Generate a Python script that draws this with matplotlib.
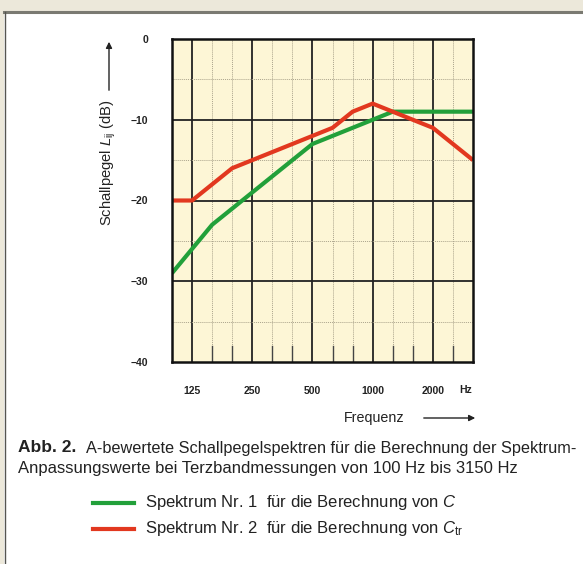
import numpy as np
import matplotlib
matplotlib.use("Agg")
import matplotlib.pyplot as plt
from matplotlib.patches import Rectangle

# Terzbaender 100 Hz .. 3150 Hz
freqs = [100, 125, 160, 200, 250, 315, 400, 500, 630, 800, 1000, 1250, 1600, 2000, 2500, 3150]
spektrum1 = [-29, -26, -23, -21, -19, -17, -15, -13, -12, -11, -10, -9, -9, -9, -9, -9]
spektrum2 = [-20, -20, -18, -16, -15, -14, -13, -12, -11, -9, -8, -9, -10, -11, -13, -15]
octave_labels = ["125", "250", "500", "1000", "2000"]
y_ticks = [0, -10, -20, -30, -40]
y_labels = ["0", "\u221210", "\u221220", "\u221230", "\u221240"]

plt.rcParams['font.family'] = ['Liberation Sans', 'DejaVu Sans']
plt.rcParams['mathtext.fontset'] = 'custom'
plt.rcParams['mathtext.rm'] = 'Liberation Sans'
plt.rcParams['mathtext.it'] = 'Liberation Sans:italic'

W, H = 583, 564
fig = plt.figure(figsize=(W/100, H/100), dpi=100)
fig.patch.set_facecolor('white')
# beiger Rand oben/links mit dunkler Kante
fig.patches.append(Rectangle((0, 1-12/H), 1, 12/H, transform=fig.transFigure,
                             facecolor='#ECE8DA', edgecolor='none', zorder=-10))
fig.patches.append(Rectangle((0, 0), 4/W, 1, transform=fig.transFigure,
                             facecolor='#ECE8DA', edgecolor='none', zorder=-10))
fig.add_artist(plt.Line2D([4/W, 1], [1-12/H, 1-12/H], color='#7A7A72', lw=2.2, transform=fig.transFigure))
fig.add_artist(plt.Line2D([4.5/W, 4.5/W], [0, 1-12/H], color='#555550', lw=1.0, transform=fig.transFigure))

ax = fig.add_axes([172/W, 1-362/H, 301/W, 323/H])
ax.set_facecolor('#FDF6D6')
x = np.arange(len(freqs))

# Gitter
for i, f in enumerate(freqs):
    if f in (125, 250, 500, 1000, 2000):
        ax.axvline(i, color='#222222', lw=1.3, zorder=1)
    elif 0 < i < len(freqs) - 1:
        ax.axvline(i, color='#ABA48C', lw=0.7, ls=(0, (1, 1)), zorder=1)
        ax.plot([i, i], [-40, -38], color='#444444', lw=1.0, zorder=1)
for yv in [-10, -20, -30]:
    ax.axhline(yv, color='#222222', lw=1.3, zorder=1)
for yv in [-5, -15, -25, -35]:
    ax.axhline(yv, color='#ABA48C', lw=0.7, ls=(0, (1, 1)), zorder=1)

ax.plot(x, spektrum1, color='#22A03A', lw=3.0, zorder=3, solid_capstyle='butt')
ax.plot(x, spektrum2, color='#E2381F', lw=3.0, zorder=4, solid_capstyle='butt')

ax.set_xlim(0, len(freqs) - 1)
ax.set_ylim(-40, 0)
for s in ax.spines.values():
    s.set_linewidth(1.8)
    s.set_color('#111111')
    s.set_zorder(5)

ax.set_yticks(y_ticks)
ax.set_yticklabels(y_labels, fontsize=7.5, fontweight='bold', color='#222222')
ax.set_xticks([freqs.index(int(l)) for l in octave_labels])
ax.set_xticklabels(octave_labels, fontsize=7.5, fontweight='bold', color='#222222')
ax.tick_params(length=0, axis='y', pad=17)
ax.tick_params(length=0, axis='x', pad=17)

fig.text(466/W, 1-390/H, "Hz", fontsize=7.5, fontweight='bold', color='#222222',
         ha='center', va='center')

# Achsenbeschriftungen mit Pfeilen
fig.text(108/W, 1-163/H, "Schallpegel $L_{\\mathrm{ij}}$ (dB)", rotation=90, fontsize=10.6,
         ha='center', va='center', color='#222222')
ax.annotate("", xy=(109/W, 1-39/H), xytext=(109/W, 1-93/H), xycoords='figure fraction',
            arrowprops=dict(arrowstyle='-|>', color='#222222', lw=1.0, mutation_scale=9))
fig.text(374/W, 1-418/H, "Frequenz", fontsize=10.3, ha='center', va='center', color='#222222')
ax.annotate("", xy=(478/W, 1-418/H), xytext=(421/W, 1-418/H), xycoords='figure fraction',
            arrowprops=dict(arrowstyle='-|>', color='#222222', lw=1.0, mutation_scale=9))

# Bildunterschrift
fig.text(18/W, 1-448/H, "Abb. 2.", fontsize=12.5, fontweight='bold', va='center', color='#222222')
fig.text(86/W, 1-448/H, "A-bewertete Schallpegelspektren f\u00fcr die Berechnung der Spektrum-",
         fontsize=11.7, va='center', color='#222222')
fig.text(18/W, 1-468/H, "Anpassungswerte bei Terzbandmessungen von 100 Hz bis 3150 Hz",
         fontsize=12, va='center', color='#222222')

fig.add_artist(plt.Line2D([93/W, 134/W], [1-503/H, 1-503/H], color='#22A03A', lw=3.0,
                          transform=fig.transFigure))
fig.add_artist(plt.Line2D([93/W, 134/W], [1-529/H, 1-529/H], color='#E2381F', lw=3.0,
                          transform=fig.transFigure))
fig.text(145/W, 1-503/H, "Spektrum Nr. 1  f\u00fcr die Berechnung von $C$", fontsize=12,
         va='center', color='#222222')
fig.text(145/W, 1-529/H, "Spektrum Nr. 2  f\u00fcr die Berechnung von $C_{\\mathrm{tr}}$", fontsize=12,
         va='center', color='#222222')

fig.savefig("out.png", dpi=100, facecolor=fig.get_facecolor())
